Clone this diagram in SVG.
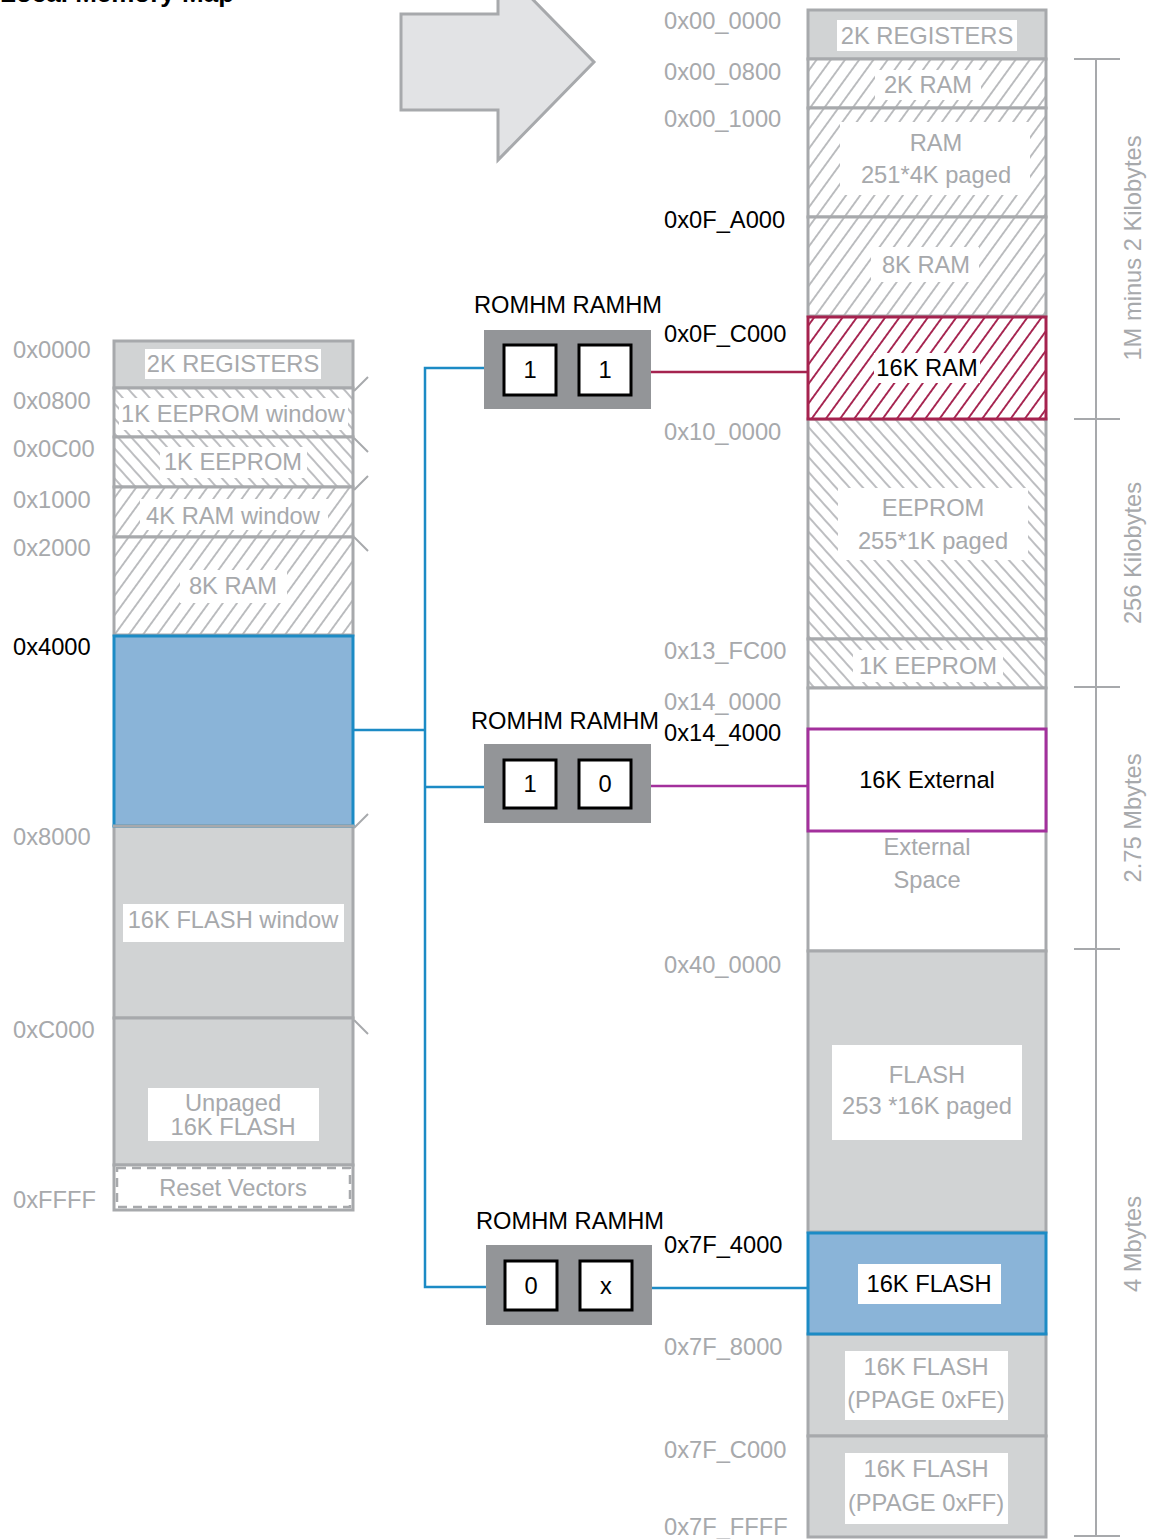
<svg xmlns="http://www.w3.org/2000/svg" width="1149" height="1539" viewBox="0 0 1149 1539">
<style>
text{font-family:"Liberation Sans",Arial,sans-serif;font-size:23.7px}
.g{fill:#a7a9ac}
.k{fill:#000}
.m{text-anchor:middle}
.sec{stroke:#a7a9ac;stroke-width:3}
.gf{fill:#d1d3d4}
.wf{fill:#fff}
.wb{fill:#fff}
.sq{fill:#fff;stroke:#000;stroke-width:3}
.hb{fill:#939598}
.tick{stroke:#a7a9ac;stroke-width:2;fill:none}
.con{fill:none;stroke-width:2.5}
</style>
<defs>
<pattern id="hs" patternUnits="userSpaceOnUse" width="11.5" height="11.5" patternTransform="rotate(36)"><rect width="11.5" height="11.5" fill="#fff"/><line x1="5.75" y1="-1" x2="5.75" y2="13" stroke="#a7a9ac" stroke-width="1.5"/></pattern>
<pattern id="hb" patternUnits="userSpaceOnUse" width="10" height="10" patternTransform="rotate(-42)"><rect width="10" height="10" fill="#fff"/><line x1="5" y1="-1" x2="5" y2="11" stroke="#a7a9ac" stroke-width="1.5"/></pattern>
<pattern id="hr" patternUnits="userSpaceOnUse" width="11.5" height="11.5" patternTransform="rotate(36)"><rect width="11.5" height="11.5" fill="#fff"/><line x1="5.75" y1="-1" x2="5.75" y2="13" stroke="#a5234f" stroke-width="1.9"/></pattern>
</defs>
<rect width="1149" height="1539" fill="#fff"/>

<text x="0" y="2" style="font-weight:bold;font-size:26px" class="k">Local Memory Map</text>

<g id="big-arrow">
<polygon points="401,14 498,14 498,-36 594,62 498,160 498,110 401,110" fill="#e2e3e5" stroke="#a7a9ac" stroke-width="3"/>
</g>

<!-- Left local memory map -->
<g id="left-map">
<g id="L-regs"><rect class="sec gf" x="114" y="341" width="239" height="47"/><rect class="wb" x="145" y="349" width="176" height="30"/><text class="g m" x="233" y="372">2K REGISTERS</text></g>
<g id="L-eew"><rect class="sec" fill="url(#hb)" x="114" y="388" width="239" height="49"/><rect class="wb" x="119" y="398" width="229" height="32"/><text class="g m" x="233" y="422">1K EEPROM window</text></g>
<g id="L-ee"><rect class="sec" fill="url(#hb)" x="114" y="437" width="239" height="50"/><rect class="wb" x="160" y="447" width="147" height="31"/><text class="g m" x="233" y="470">1K EEPROM</text></g>
<g id="L-ramw"><rect class="sec" fill="url(#hs)" x="114" y="487" width="239" height="50"/><rect class="wb" x="140" y="499" width="188" height="31"/><text class="g m" x="233" y="524">4K RAM window</text></g>
<g id="L-ram8"><rect class="sec" fill="url(#hs)" x="114" y="537" width="239" height="98"/><rect class="wb" x="180" y="570" width="107" height="33"/><text class="g m" x="233" y="594">8K RAM</text></g>
<g id="L-flashw"><rect class="sec gf" x="114" y="826" width="239" height="192"/><rect class="wb" x="123" y="904" width="221" height="38"/><text class="g m" x="233" y="928">16K FLASH window</text></g>
<g id="L-unpaged"><rect class="sec gf" x="114" y="1018" width="239" height="147"/><rect class="wb" x="148" y="1088" width="171" height="53"/><text class="g m" x="233" y="1111">Unpaged</text><text class="g m" x="233" y="1135">16K FLASH</text></g>
<g id="L-reset"><rect class="sec wf" x="114" y="1165" width="239" height="45"/><rect x="117" y="1168" width="233" height="39" fill="#fff" stroke="#a7a9ac" stroke-width="2.5" stroke-dasharray="9,6"/><text class="g m" x="233" y="1196">Reset Vectors</text></g>
<g id="L-window"><rect x="114" y="636" width="239" height="190" fill="#8ab4d8" stroke="#1c8bc5" stroke-width="3"/><line x1="113" y1="826" x2="354" y2="826" stroke="#a7a9ac" stroke-width="3"/></g>
<g id="L-ticks">
<line class="tick" x1="354" y1="391" x2="368" y2="377"/>
<line class="tick" x1="354" y1="438" x2="368" y2="452"/>
<line class="tick" x1="354" y1="490" x2="368" y2="476"/>
<line class="tick" x1="354" y1="537" x2="368" y2="551"/>
<line class="tick" x1="354" y1="828" x2="368" y2="814"/>
<line class="tick" x1="354" y1="1020" x2="368" y2="1034"/>
</g>
<g id="L-addr">
<text class="g" x="13" y="358">0x0000</text>
<text class="g" x="13" y="409">0x0800</text>
<text class="g" x="13" y="457">0x0C00</text>
<text class="g" x="13" y="508">0x1000</text>
<text class="g" x="13" y="556">0x2000</text>
<text class="k" x="13" y="655">0x4000</text>
<text class="g" x="13" y="845">0x8000</text>
<text class="g" x="13" y="1038">0xC000</text>
<text class="g" x="13" y="1208">0xFFFF</text>
</g>
</g>

<!-- Right global memory map -->
<g id="right-map">
<g id="R-regs"><rect class="sec gf" x="808" y="10" width="238" height="49"/><rect class="wb" x="837" y="20" width="180" height="31"/><text class="g m" x="927" y="44">2K REGISTERS</text></g>
<g id="R-ram2"><rect class="sec" fill="url(#hs)" x="808" y="59" width="238" height="49"/><rect class="wb" x="875" y="70" width="106" height="30"/><text class="g m" x="928" y="93">2K RAM</text></g>
<g id="R-ram251"><rect class="sec" fill="url(#hs)" x="808" y="108" width="238" height="109"/><rect class="wb" x="840" y="122" width="190" height="73"/><text class="g m" x="936" y="151">RAM</text><text class="g m" x="936" y="183">251*4K paged</text></g>
<g id="R-ram8"><rect class="sec" fill="url(#hs)" x="808" y="217" width="238" height="99"/><rect class="wb" x="871" y="247" width="108" height="35"/><text class="g m" x="926" y="273">8K RAM</text></g>
<g id="R-ee255"><rect class="sec" fill="url(#hb)" x="808" y="419" width="238" height="220"/><rect class="wb" x="838" y="488" width="190" height="72"/><text class="g m" x="933" y="516">EEPROM</text><text class="g m" x="933" y="549">255*1K paged</text></g>
<g id="R-ee1"><rect class="sec" fill="url(#hb)" x="808" y="639" width="238" height="49"/><rect class="wb" x="853" y="650" width="150" height="32"/><text class="g m" x="928" y="674">1K EEPROM</text></g>
<g id="R-ext"><rect class="sec wf" x="808" y="688" width="238" height="263"/><text class="g m" x="927" y="855">External</text><text class="g m" x="927" y="888">Space</text></g>
<g id="R-flash253"><rect class="sec gf" x="808" y="951" width="238" height="281"/><rect class="wb" x="832" y="1045" width="190" height="95"/><text class="g m" x="927" y="1083">FLASH</text><text class="g m" x="927" y="1114">253 *16K paged</text></g>
<g id="R-fe"><rect class="sec gf" x="808" y="1334" width="238" height="102"/><rect class="wb" x="845" y="1351" width="163" height="69"/><text class="g m" x="926" y="1375">16K FLASH</text><text class="g m" x="926" y="1408">(PPAGE 0xFE)</text></g>
<g id="R-ff"><rect class="sec gf" x="808" y="1436" width="238" height="101"/><rect class="wb" x="845" y="1453" width="163" height="71"/><text class="g m" x="926" y="1477">16K FLASH</text><text class="g m" x="926" y="1511">(PPAGE 0xFF)</text></g>
<g id="R-ram16"><rect x="808" y="317" width="238" height="102" fill="url(#hr)" stroke="#a5234f" stroke-width="3"/><rect class="wb" x="874" y="353" width="106" height="30"/><text class="k m" x="927" y="376">16K RAM</text></g>
<g id="R-ext16"><rect x="808" y="729" width="238" height="102" fill="#fff" stroke="#a3309c" stroke-width="3"/><text class="k m" x="927" y="788">16K External</text></g>
<g id="R-flash16"><rect x="808" y="1233" width="238" height="101" fill="#8ab4d8" stroke="#1c8bc5" stroke-width="3"/><rect class="wb" x="858" y="1264" width="143" height="40"/><text class="k m" x="929" y="1292">16K FLASH</text></g>
<g id="R-addr">
<text class="g" x="664" y="29">0x00_0000</text>
<text class="g" x="664" y="80">0x00_0800</text>
<text class="g" x="664" y="127">0x00_1000</text>
<text class="k" x="664" y="228">0x0F_A000</text>
<text class="k" x="664" y="342">0x0F_C000</text>
<text class="g" x="664" y="440">0x10_0000</text>
<text class="g" x="664" y="659">0x13_FC00</text>
<text class="g" x="664" y="710">0x14_0000</text>
<text class="k" x="664" y="741">0x14_4000</text>
<text class="g" x="664" y="973">0x40_0000</text>
<text class="k" x="664" y="1253">0x7F_4000</text>
<text class="g" x="664" y="1355">0x7F_8000</text>
<text class="g" x="664" y="1458">0x7F_C000</text>
<text class="g" x="664" y="1535">0x7F_FFFF</text>
</g>
</g>

<g id="size-axis">
<line x1="1096" y1="59" x2="1096" y2="1537" stroke="#a7a9ac" stroke-width="2"/>
<line x1="1074" y1="59" x2="1120" y2="59" stroke="#a7a9ac" stroke-width="2"/>
<line x1="1074" y1="419" x2="1120" y2="419" stroke="#a7a9ac" stroke-width="2"/>
<line x1="1074" y1="687" x2="1120" y2="687" stroke="#a7a9ac" stroke-width="2"/>
<line x1="1074" y1="949" x2="1120" y2="949" stroke="#a7a9ac" stroke-width="2"/>
<line x1="1074" y1="1536" x2="1120" y2="1536" stroke="#a7a9ac" stroke-width="2"/>
<text class="g m" transform="translate(1141,248) rotate(-90)">1M minus 2 Kilobytes</text>
<text class="g m" transform="translate(1141,553) rotate(-90)">256 Kilobytes</text>
<text class="g m" transform="translate(1141,818) rotate(-90)">2.75 Mbytes</text>
<text class="g m" transform="translate(1141,1244) rotate(-90)">4 Mbytes</text>
</g>

<g id="connectors">
<polyline class="con" stroke="#1c8bc5" points="354,730 425,730"/>
<polyline class="con" stroke="#1c8bc5" points="484,368 425,368 425,1287 486,1287"/>
<polyline class="con" stroke="#1c8bc5" points="425,787 484,787"/>
<line class="con" stroke="#a5234f" x1="651" y1="372" x2="808" y2="372"/>
<line class="con" stroke="#a3309c" x1="651" y1="786" x2="808" y2="786"/>
<line class="con" stroke="#1c8bc5" x1="652" y1="1288" x2="808" y2="1288"/>
</g>

<g id="hm-11">
<text class="k m" x="568" y="313">ROMHM RAMHM</text>
<rect class="hb" x="484" y="330" width="167" height="79"/>
<rect class="sq" x="504" y="345" width="52" height="50"/>
<rect class="sq" x="579" y="345" width="52" height="50"/>
<text class="k m" x="530" y="378">1</text>
<text class="k m" x="605" y="378">1</text>
</g>
<g id="hm-10">
<text class="k m" x="565" y="729">ROMHM RAMHM</text>
<rect class="hb" x="484" y="744" width="167" height="79"/>
<rect class="sq" x="504" y="760" width="52" height="48"/>
<rect class="sq" x="579" y="760" width="52" height="48"/>
<text class="k m" x="530" y="792">1</text>
<text class="k m" x="605" y="792">0</text>
</g>
<g id="hm-0x">
<text class="k m" x="570" y="1229">ROMHM RAMHM</text>
<rect class="hb" x="486" y="1245" width="166" height="80"/>
<rect class="sq" x="505" y="1261" width="52" height="49"/>
<rect class="sq" x="580" y="1261" width="52" height="49"/>
<text class="k m" x="531" y="1294">0</text>
<text class="k m" x="606" y="1294">x</text>
</g>
</svg>
